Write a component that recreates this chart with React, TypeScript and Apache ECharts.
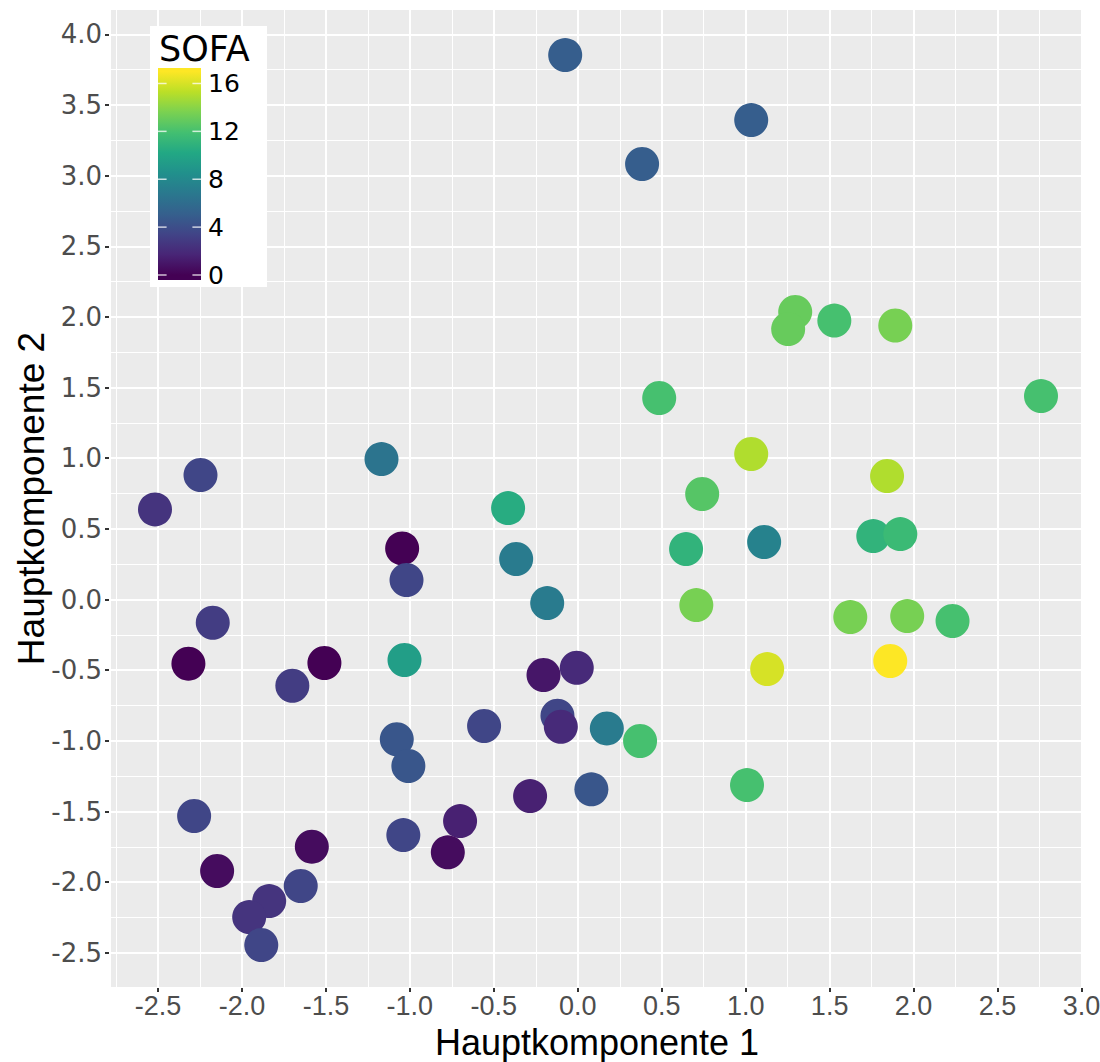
import React, { useEffect, useRef } from "react";
import * as echarts from "echarts";

// ---------------- data ----------------
const PC1 = [
  -0.075, 1.033, 0.383, 1.295, 1.253, 1.528, 1.891, 2.759, 0.485, -1.169,
  -2.247, -2.518, 1.033, 1.842, -0.415, 0.741, -1.046, -1.02, -0.367, -0.182,
  0.645, 1.11, 1.76, 1.921, 0.706, 1.623, 1.962, 2.232, 1.861, 1.128,
  -2.174, -2.319, -1.509, -1.7, -1.032, -0.204, -0.006, -1.078, -1.009, -0.558,
  -0.121, -0.101, 0.173, 0.371, -0.284, 0.081, -0.701, -0.774, -1.039, -1.584,
  -1.65, 1.008, -2.285, -2.148, -1.838, -1.957, -1.885,
];
const PC2 = [
  3.853, 3.393, 3.082, 2.035, 1.914, 1.974, 1.939, 1.44, 1.426, 0.994,
  0.881, 0.638, 1.03, 0.874, 0.647, 0.747, 0.362, 0.138, 0.287, -0.025,
  0.357, 0.407, 0.449, 0.463, -0.039, -0.124, -0.117, -0.152, -0.435, -0.492,
  -0.164, -0.454, -0.449, -0.61, -0.428, -0.534, -0.483, -0.989, -1.178, -0.895,
  -0.822, -0.9, -0.912, -1.001, -1.391, -1.343, -1.568, -1.789, -1.667, -1.749,
  -2.027, -1.313, -1.532, -1.921, -2.134, -2.247, -2.445,
];
const SOFA = [
  5, 5, 5, 13, 13, 12, 13.5, 12, 12, 6.5,
  3.5, 2.5, 15, 15, 10.5, 12.5, 0, 3.5, 7, 7,
  11, 7.5, 11, 11.5, 13.5, 13.5, 13.5, 12, 17, 16,
  3, 0, 0, 3, 9.5, 1, 2, 4.5, 4.5, 3.5,
  3.5, 2, 7, 12, 1.5, 4.5, 1.5, 0.5, 3.5, 0.5,
  3.5, 12, 3.5, 0.5, 2.5, 2.5, 3.5,
];
const LEGEND_TICKS = [0, 4, 8, 12, 16];
const SOFA_RANGE = [0, 17];
const VIRIDIS = [
  "#440154", "#482576", "#414487", "#35608D", "#2A788E", "#21908C",
  "#22A884", "#43BF71", "#7AD151", "#BBDF27", "#FDE725",
];
const X_NAME = "Hauptkomponente 1";
const Y_NAME = "Hauptkomponente 2";
const LEGEND_TITLE = "SOFA";

// ---------------- layout ----------------
const W = 1100;
const H = 1062;
const PANEL = { left: 110, right: 1084, top: 9, bottom: 988 };
const X_EXT = [-2.786, 3.015];
const Y_EXT = [-2.749, 4.179];
const X_BREAK_RANGE = [-2.5, 3.0];
const Y_BREAK_RANGE = [-2.5, 4.0];
const STEP = 0.5;

const xPx = (v: number) =>
  PANEL.left + ((v - X_EXT[0]) / (X_EXT[1] - X_EXT[0])) * (PANEL.right - PANEL.left);
const yPx = (v: number) =>
  PANEL.bottom - ((v - Y_EXT[0]) / (Y_EXT[1] - Y_EXT[0])) * (PANEL.bottom - PANEL.top);

const isBreak = (v: number) => Math.abs(v / STEP - Math.round(v / STEP)) < 1e-6;

// legend geometry
const LEG_BOX = { x: 150, y: 26, w: 117, h: 261 };
const BAR = { x: 158, y: 68, w: 43, h: 212 };
const LEG_ZERO_Y = 275;
const LEG_UNIT = 11.97;
const legY = (v: number) => LEG_ZERO_Y - v * LEG_UNIT;

function buildOption() {
  const data = PC1.map((x, i) => [x, PC2[i], SOFA[i]]);

  const stops: { offset: number; color: string }[] = [];
  stops.push({ offset: 0, color: VIRIDIS[VIRIDIS.length - 1] });
  for (let i = VIRIDIS.length - 1; i >= 0; i--) {
    const v = SOFA_RANGE[0] + ((SOFA_RANGE[1] - SOFA_RANGE[0]) * i) / (VIRIDIS.length - 1);
    const off = (legY(v) - BAR.y) / BAR.h;
    stops.push({ offset: Math.min(1, Math.max(0, off)), color: VIRIDIS[i] });
  }
  stops.push({ offset: 1, color: VIRIDIS[0] });
  const gradient = new echarts.graphic.LinearGradient(0, 0, 0, 1, stops);

  const legendEls: any[] = [
    {
      type: "rect",
      shape: { x: LEG_BOX.x, y: LEG_BOX.y, width: LEG_BOX.w, height: LEG_BOX.h },
      style: { fill: "#FFFFFF" },
      z: 100,
    },
    {
      type: "text",
      x: 159,
      y: 49,
      style: {
        text: LEGEND_TITLE,
        fontSize: 35,
        fontFamily: "DejaVu Sans",
        fill: "#000000",
        align: "left",
        verticalAlign: "middle",
      },
      z: 101,
    },
    {
      type: "rect",
      shape: { x: BAR.x, y: BAR.y, width: BAR.w, height: BAR.h },
      style: { fill: gradient },
      z: 101,
    },
  ];
  LEGEND_TICKS.forEach((t) => {
    const y = legY(t);
    legendEls.push(
      {
        type: "line",
        shape: { x1: BAR.x, y1: y, x2: BAR.x + BAR.w / 5, y2: y },
        style: { stroke: "rgba(255,255,255,0.75)", lineWidth: 1.5 },
        z: 102,
      },
      {
        type: "line",
        shape: { x1: BAR.x + BAR.w - BAR.w / 5, y1: y, x2: BAR.x + BAR.w, y2: y },
        style: { stroke: "rgba(255,255,255,0.75)", lineWidth: 1.5 },
        z: 102,
      },
      {
        type: "text",
        x: 208,
        y: y,
        style: {
          text: String(t),
          fontSize: 25,
          fontFamily: "DejaVu Sans",
          fill: "#000000",
          align: "left",
          verticalAlign: "middle",
        },
        z: 102,
      }
    );
  });

  const hidden = {
    axisLine: { show: false },
    axisTick: { show: false },
    axisLabel: { show: false },
  };

  return {
    animation: false,
    backgroundColor: "#FFFFFF",
    grid: [
      {
        left: PANEL.left,
        top: PANEL.top,
        width: PANEL.right - PANEL.left,
        height: PANEL.bottom - PANEL.top,
        show: true,
        backgroundColor: "#EBEBEB",
        borderWidth: 0,
        containLabel: false,
        outerBoundsMode: "none",
      },
      {
        // x tick marks strip
        left: xPx(X_BREAK_RANGE[0]),
        width: xPx(X_BREAK_RANGE[1]) - xPx(X_BREAK_RANGE[0]),
        top: PANEL.bottom,
        height: 4,
        show: false,
        containLabel: false,
        outerBoundsMode: "none",
      },
      {
        // y tick marks strip
        left: PANEL.left - 5,
        width: 5,
        top: yPx(Y_BREAK_RANGE[1]),
        height: yPx(Y_BREAK_RANGE[0]) - yPx(Y_BREAK_RANGE[1]),
        show: false,
        containLabel: false,
        outerBoundsMode: "none",
      },
    ],
    xAxis: [
      {
        type: "value",
        gridIndex: 0,
        position: "bottom",
        min: X_EXT[0],
        max: X_EXT[1],
        minInterval: STEP,
        maxInterval: STEP,
        splitNumber: 12,
        axisLine: { show: false },
        axisTick: { show: false },
        axisLabel: {
          show: true,
          margin: 4,
          fontSize: 27,
          fontFamily: "Liberation Sans",
          color: "#4D4D4D",
          formatter: (v: number) => (isBreak(v) ? v.toFixed(1) : ""),
        },
        splitLine: { show: true, lineStyle: { color: "#FFFFFF", width: 2 } },
        name: X_NAME,
        nameLocation: "middle",
        nameGap: 36,
        nameMoveOverlap: false,
        nameTextStyle: { fontSize: 36, fontFamily: "Liberation Sans", color: "#000000" },
      },
      {
        // minor grid lines (shifted by half a step)
        type: "value",
        gridIndex: 0,
        position: "top",
        min: X_EXT[0] + STEP / 2,
        max: X_EXT[1] + STEP / 2,
        minInterval: STEP,
        maxInterval: STEP,
        splitNumber: 12,
        ...hidden,
        splitLine: { show: true, lineStyle: { color: "#FFFFFF", width: 1 } },
      },
      {
        type: "value",
        gridIndex: 1,
        min: X_BREAK_RANGE[0],
        max: X_BREAK_RANGE[1],
        minInterval: STEP,
        maxInterval: STEP,
        splitNumber: 11,
        ...hidden,
        splitLine: { show: true, lineStyle: { color: "#333333", width: 2 } },
      },
      { type: "value", gridIndex: 2, show: false, min: 0, max: 1 },
    ],
    yAxis: [
      {
        type: "value",
        gridIndex: 0,
        position: "left",
        min: Y_EXT[0],
        max: Y_EXT[1],
        minInterval: STEP,
        maxInterval: STEP,
        splitNumber: 14,
        axisLine: { show: false },
        axisTick: { show: false },
        axisLabel: {
          show: true,
          margin: 8,
          fontSize: 26,
          fontFamily: "DejaVu Sans",
          color: "#4D4D4D",
          formatter: (v: number) => (isBreak(v) ? v.toFixed(1) : ""),
        },
        splitLine: { show: true, lineStyle: { color: "#FFFFFF", width: 2 } },
        name: Y_NAME,
        nameLocation: "middle",
        nameGap: 60,
        nameMoveOverlap: false,
        nameRotate: 90,
        nameTextStyle: { fontSize: 37, fontFamily: "Liberation Sans", color: "#000000" },
      },
      {
        type: "value",
        gridIndex: 0,
        position: "right",
        min: Y_EXT[0] + STEP / 2,
        max: Y_EXT[1] + STEP / 2,
        minInterval: STEP,
        maxInterval: STEP,
        splitNumber: 14,
        ...hidden,
        splitLine: { show: true, lineStyle: { color: "#FFFFFF", width: 1 } },
      },
      { type: "value", gridIndex: 1, show: false, min: 0, max: 1 },
      {
        type: "value",
        gridIndex: 2,
        min: Y_BREAK_RANGE[0],
        max: Y_BREAK_RANGE[1],
        minInterval: STEP,
        maxInterval: STEP,
        splitNumber: 13,
        ...hidden,
        splitLine: { show: true, lineStyle: { color: "#333333", width: 2 } },
      },
    ],
    visualMap: {
      type: "continuous",
      show: false,
      seriesIndex: 0,
      dimension: 2,
      min: SOFA_RANGE[0],
      max: SOFA_RANGE[1],
      inRange: { color: VIRIDIS },
    },
    series: [
      {
        type: "scatter",
        xAxisIndex: 0,
        yAxisIndex: 0,
        data,
        symbol: "circle",
        symbolSize: 34,
        itemStyle: { opacity: 1, borderWidth: 0 },
        silent: true,
        z: 5,
      },
    ],
    graphic: legendEls,
  };
}

export default function App() {
  const ref = useRef<HTMLDivElement>(null);
  useEffect(() => {
    if (!ref.current) return;
    const chart = echarts.init(ref.current, undefined, { renderer: "svg", width: W, height: H });
    chart.setOption(buildOption() as any);
    return () => chart.dispose();
  }, []);
  return (
    <div
      ref={ref}
      style={{ position: "fixed", left: 0, top: 0, width: W, height: H, background: "#fff" }}
    />
  );
}
